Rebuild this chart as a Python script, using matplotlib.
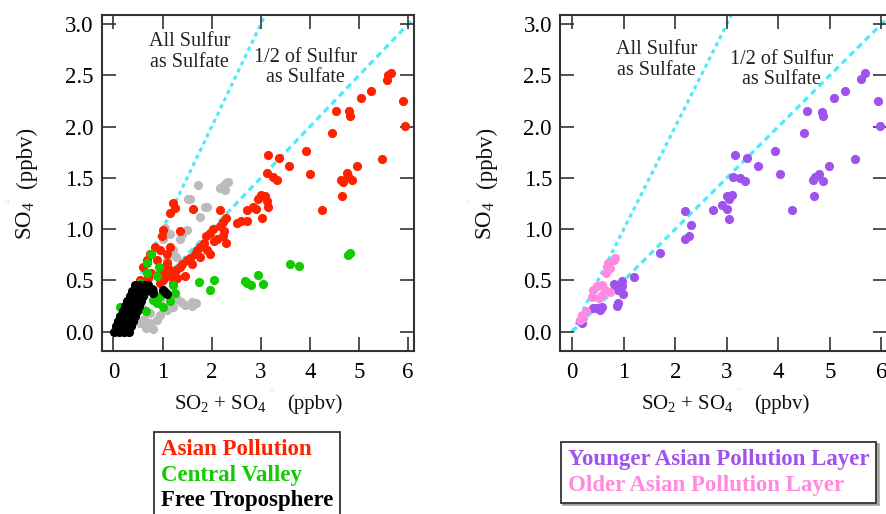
import matplotlib
matplotlib.use("Agg")
import matplotlib.pyplot as plt
from matplotlib.lines import Line2D

plt.rcParams['font.family'] = ['Liberation Serif', 'DejaVu Serif']
plt.rcParams['mathtext.fontset'] = 'custom'
plt.rcParams['mathtext.rm'] = 'Liberation Serif'
plt.rcParams['mathtext.it'] = 'Liberation Serif:italic'

# ---------------- data (left panel) ----------------
asian_x = [5.66, 5.59, 5.56, 5.90, 5.93, 5.25, 5.05, 4.54, 4.80, 4.81, 4.45, 3.92, 4.00, 4.24, 5.46, 4.95,
           4.75, 4.64, 4.85, 4.68, 4.78, 4.66, 3.58, 3.37, 3.14, 3.12, 3.25, 3.33, 3.00, 3.08, 2.95, 3.12,
           3.14, 3.03, 2.91, 2.84, 2.72, 2.71, 2.51, 2.60, 2.17, 1.62, 1.22, 1.25, 1.16, 1.35, 1.01, 0.98,
           2.30, 2.23, 2.17, 2.03, 1.89, 1.96, 1.76, 1.66, 1.49, 1.35, 1.22, 1.08, 0.94, 0.81, 2.30, 2.23,
           2.10, 1.96, 1.76, 1.45, 1.22, 2.25, 2.05, 1.85, 1.70, 1.55, 1.40, 1.28, 1.15, 1.00, 1.60, 1.30,
           1.12, 1.90, 0.74, 0.88, 1.08, 0.60, 0.77, 0.54, 0.94, 1.08, 1.15, 0.84, 0.68, 0.95, 1.02, 0.70,
           0.62, 0.50]
asian_y = [2.52, 2.50, 2.46, 2.25, 2.01, 2.35, 2.28, 2.15, 2.15, 2.10, 1.94, 1.76, 1.54, 1.19, 1.68, 1.62,
           1.55, 1.48, 1.48, 1.46, 1.52, 1.32, 1.62, 1.69, 1.72, 1.55, 1.51, 1.48, 1.33, 1.32, 1.29, 1.27,
           1.22, 1.11, 1.20, 1.22, 1.19, 1.08, 1.06, 1.08, 1.19, 1.20, 1.25, 1.21, 1.16, 0.98, 0.99, 0.93,
           1.11, 1.07, 1.03, 1.00, 0.93, 0.96, 0.83, 0.76, 0.70, 0.63, 0.57, 0.54, 0.47, 0.41, 0.86, 0.93,
           0.90, 0.76, 0.73, 0.54, 0.47, 0.98, 0.88, 0.86, 0.80, 0.72, 0.66, 0.60, 0.55, 0.50, 0.66, 0.52,
           0.62, 0.80, 0.76, 0.70, 0.76, 0.63, 0.57, 0.50, 0.57, 0.67, 0.83, 0.83, 0.70, 0.80, 0.62, 0.52,
           0.48, 0.45]

valley_x = [4.81, 4.78, 3.59, 3.78, 2.95, 3.05, 2.71, 2.81, 2.68, 2.05, 1.97, 1.74, 1.22, 1.25, 1.01, 0.88,
            0.81, 0.77, 0.69, 0.92, 0.69, 0.88, 0.67, 0.60, 0.54, 0.13, 0.95, 1.15]
valley_y = [0.77, 0.75, 0.66, 0.64, 0.55, 0.46, 0.47, 0.45, 0.49, 0.50, 0.41, 0.48, 0.45, 0.38, 0.24, 0.28,
            0.31, 0.76, 0.67, 0.63, 0.57, 0.54, 0.20, 0.44, 0.47, 0.24, 0.35, 0.30]

free_x = [0.02, 0.12, 0.22, 0.32, 0.05, 0.15, 0.25, 0.36, 0.10, 0.20, 0.30, 0.40, 0.14, 0.24, 0.34, 0.44,
          0.19, 0.28, 0.38, 0.48, 0.24, 0.33, 0.43, 0.52, 0.28, 0.38, 0.47, 0.57, 0.33, 0.42, 0.52, 0.61,
          0.38, 0.47, 0.56, 0.66, 0.44, 0.53, 0.62, 0.71, 0.78, 0.80, 1.01, 1.05, 1.08]
free_y = [0.00, 0.00, 0.00, 0.00, 0.05, 0.05, 0.05, 0.05, 0.10, 0.10, 0.10, 0.10, 0.15, 0.15, 0.15, 0.15,
          0.20, 0.20, 0.20, 0.20, 0.25, 0.25, 0.25, 0.25, 0.30, 0.30, 0.30, 0.30, 0.35, 0.35, 0.35, 0.35,
          0.40, 0.40, 0.40, 0.40, 0.45, 0.45, 0.45, 0.45, 0.42, 0.38, 0.41, 0.39, 0.37]

other_x = [1.72, 2.17, 2.30, 2.34, 2.23, 2.27, 1.52, 1.86, 1.76, 1.49, 1.35, 1.01, 1.22, 1.08, 1.28, 1.40,
           1.15, 1.05, 1.55, 1.90, 1.69, 1.59, 1.38, 1.22, 1.08, 0.88, 0.81, 0.67, 0.54, 0.74, 0.94, 0.40,
           1.30, 1.45, 1.60, 0.62, 0.75, 0.95, 0.60]
other_y = [1.43, 1.40, 1.45, 1.46, 1.42, 1.38, 1.29, 1.22, 1.12, 0.99, 0.90, 0.90, 0.80, 0.70, 0.73, 0.95,
           0.95, 1.01, 1.29, 1.22, 0.28, 0.29, 0.29, 0.24, 0.21, 0.11, 0.02, 0.03, 0.08, 0.18, 0.31, 0.18,
           0.32, 0.26, 0.25, 0.12, 0.08, 0.16, 0.22]

# ---------------- data (right panel) ----------------
young_x = [5.69, 5.61, 5.93, 5.97, 5.29, 5.09, 4.56, 4.85, 4.87, 4.49, 3.94, 4.04, 4.27, 5.48, 4.98, 4.79,
           4.68, 4.87, 4.72, 4.69, 3.60, 3.39, 3.16, 3.12, 3.26, 3.36, 3.00, 3.10, 3.05, 2.91, 3.00, 3.05,
           2.74, 2.19, 2.31, 2.26, 2.19, 1.71, 1.19, 0.96, 0.83, 0.89, 0.99, 0.96, 0.80, 0.89, 0.86, 0.57,
           0.47, 0.41, 0.54, 0.14, 0.18]
young_y = [2.52, 2.47, 2.25, 2.01, 2.35, 2.28, 2.15, 2.14, 2.10, 1.94, 1.76, 1.54, 1.19, 1.68, 1.62, 1.54,
           1.48, 1.47, 1.51, 1.32, 1.62, 1.69, 1.72, 1.51, 1.50, 1.47, 1.32, 1.33, 1.29, 1.24, 1.20, 1.10,
           1.19, 1.18, 1.04, 0.93, 0.90, 0.77, 0.53, 0.49, 0.44, 0.41, 0.37, 0.44, 0.46, 0.28, 0.25, 0.24,
           0.23, 0.23, 0.21, 0.10, 0.08]

old_x = [0.80, 0.70, 0.73, 0.65, 0.83, 0.67, 0.47, 0.57, 0.64, 0.73, 0.38, 0.51, 0.57, 0.41, 0.27, 0.18,
         0.15, 0.21]
old_y = [0.70, 0.67, 0.62, 0.57, 0.72, 0.63, 0.44, 0.45, 0.41, 0.39, 0.34, 0.33, 0.36, 0.41, 0.20, 0.16,
         0.11, 0.13]

# reference lines: all sulfur as sulfate (slope 1), half (slope 1/2)
line_all_x = [0, 3.1]
line_all_y = [0, 3.1]
line_half_x = [0, 6.2]
line_half_y = [0, 3.1]

xticks = [0, 1, 2, 3, 4, 5, 6]
yticks = [0.0, 0.5, 1.0, 1.5, 2.0, 2.5, 3.0]
ytick_labels = ['0.0', '0.5', '1.0', '1.5', '2.0', '2.5', '3.0']

# ---------------- styling ----------------
C_RED = '#FF2200'
C_GREEN = '#11CC00'
C_BLACK = '#000000'
C_GRAY = '#BBBBBB'
C_CYAN = '#4DEBFA'
C_PURPLE = '#A052EC'
C_PINK = '#FF8ADF'
C_FAINT = '#E6DCC2'

W, H = 887, 514
fig = plt.figure(figsize=(W / 100, H / 100), dpi=100)

def px_rect(x0, y0, x1, y1):
    return [x0 / W, 1 - y1 / H, (x1 - x0) / W, (y1 - y0) / H]

ax1 = fig.add_axes(px_rect(101.7, 15, 414, 351))
ax2 = fig.add_axes(px_rect(560.3, 15, 887.5, 351))

MS = 6.6

def style(ax, xlim):
    ax.set_xlim(*xlim)
    ax.set_ylim(-0.19, 3.09)
    ax.set_xticks(xticks)
    ax.set_yticks(yticks)
    ax.set_yticklabels(ytick_labels)
    ax.tick_params(direction='in', top=True, right=True, length=10, width=1.2,
                   color='#333333', labelsize=16.5, pad=6)
    ax.tick_params(axis='x', pad=8)
    for s in ax.spines.values():
        s.set_color('#333333')
        s.set_linewidth(1.5)

# left panel
ax1.plot(line_all_x, line_all_y, color=C_CYAN, lw=2.3, ls=(0, (1.3, 1.2)), zorder=1)
ax1.plot(line_half_x, line_half_y, color=C_CYAN, lw=2.3, ls=(0, (2.0, 1.4)), zorder=1)
ax1.plot(other_x, other_y, 'o', color=C_GRAY, ms=MS, mec='none', zorder=2)
ax1.plot(asian_x, asian_y, 'o', color=C_RED, ms=MS, mec='none', zorder=3)
ax1.plot(valley_x, valley_y, 'o', color=C_GREEN, ms=MS, mec='none', zorder=4)
ax1.plot(free_x, free_y, 'o', color=C_BLACK, ms=MS, mec='none', zorder=5)
style(ax1, (-0.24, 6.12))
ax1.text(1.55, 2.73, 'All Sulfur\nas Sulfate', ha='center', va='center', fontsize=14.5,
         color='#222222', linespacing=1.1)
ax1.text(3.91, 2.58, '1/2 of Sulfur\nas Sulfate', ha='center', va='center', fontsize=14.5,
         color='#222222', linespacing=1.1)

# right panel
ax2.plot(line_all_x, line_all_y, color=C_CYAN, lw=2.3, ls=(0, (1.3, 1.2)), zorder=1)
ax2.plot(line_half_x, line_half_y, color=C_CYAN, lw=2.3, ls=(0, (2.0, 1.4)), zorder=1)
ax2.plot(young_x, young_y, 'o', color=C_PURPLE, ms=MS, mec='none', zorder=3)
ax2.plot(old_x, old_y, 'o', color=C_PINK, ms=MS, mec='none', zorder=4)
style(ax2, (-0.233, 6.12))
ax2.text(1.63, 2.65, 'All Sulfur\nas Sulfate', ha='center', va='center', fontsize=14.5,
         color='#222222', linespacing=1.1)
ax2.text(4.07, 2.56, '1/2 of Sulfur\nas Sulfate', ha='center', va='center', fontsize=14.5,
         color='#222222', linespacing=1.1)

# axis labels (placed in figure pixel coordinates)
def ftext(x, y, s, **kw):
    fig.text(x / W, 1 - y / H, s, **kw)

LAB = dict(fontsize=15, color='#111111')
YLAB = dict(fontsize=16.5, color='#111111')
FAINT = dict(fontsize=8, color=C_FAINT, ha='center', va='center')
# left x label
ftext(267, 404, r'SO$_2$ + SO$_4$', ha='right', va='center', **LAB)
ftext(272, 390, '=', **FAINT)
ftext(287, 404, '(ppbv)', ha='left', va='center', **LAB)
# right x label
ftext(734, 404, r'SO$_2$ + SO$_4$', ha='right', va='center', **LAB)
ftext(739, 390, '=', **FAINT)
ftext(754, 404, '(ppbv)', ha='left', va='center', **LAB)
# left y label (rotated; pieces stacked bottom-to-top)
ftext(26, 240, r'SO$_4$', ha='center', va='bottom', rotation=90, **YLAB)
ftext(8, 201, '=', rotation=90, **FAINT)
ftext(26, 188, '(ppbv)', ha='center', va='bottom', rotation=90, **YLAB)
# right y label
ftext(486, 240, r'SO$_4$', ha='center', va='bottom', rotation=90, **YLAB)
ftext(468, 201, '=', rotation=90, **FAINT)
ftext(486, 188, '(ppbv)', ha='center', va='bottom', rotation=90, **YLAB)

# legends
leg_prop = {'family': 'Liberation Serif', 'weight': 'bold', 'size': 16.5}
h = [Line2D([], [], ls='none') for _ in range(3)]
leg1 = fig.legend(h, ['Asian Pollution', 'Central Valley', 'Free Troposphere'],
                  loc='upper left', bbox_to_anchor=(154 / W, 1 - 432 / H),
                  handlelength=0, handletextpad=0, labelcolor=[C_RED, C_GREEN, C_BLACK],
                  prop=leg_prop, frameon=True, fancybox=False, edgecolor='#333333',
                  borderaxespad=0, borderpad=0.3, labelspacing=0.2, framealpha=1)
leg1.get_frame().set_linewidth(1.3)

leg2 = fig.legend(h[:2], ['Younger Asian Pollution Layer', 'Older Asian Pollution Layer'],
                  loc='upper left', bbox_to_anchor=(560.7 / W, 1 - 441.7 / H),
                  handlelength=0, handletextpad=0, labelcolor=[C_PURPLE, C_PINK],
                  prop=leg_prop, frameon=True, fancybox=False, edgecolor='#333333',
                  borderaxespad=0, borderpad=0.3, labelspacing=0.22, framealpha=1,
                  shadow={'color': '#999999', 'alpha': 0.8})
leg2.get_frame().set_linewidth(1.3)

fig.savefig('out.png', dpi=100)
